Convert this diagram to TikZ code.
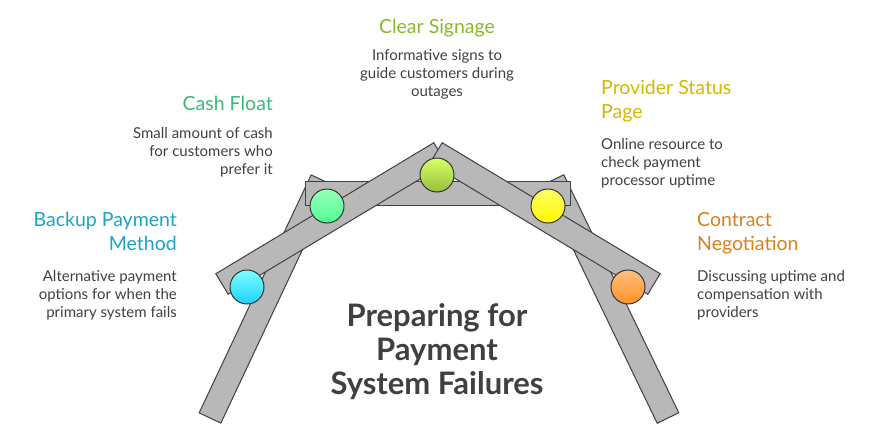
\documentclass[tikz,border=0pt]{standalone}
\usepackage{fontspec}
\setmainfont{Lato}
\usepackage{tikz}
\usetikzlibrary{positioning,calc}
\definecolor{cblue}{HTML}{1AA3C8}
\definecolor{cgreen}{HTML}{3CB878}
\definecolor{clime}{HTML}{8AB82A}
\definecolor{cyell}{HTML}{D4B800}
\definecolor{corange}{HTML}{D97F1E}
\definecolor{ctext}{HTML}{404040}
\tikzset{
  barstyle/.style={fill=black!28, draw=black!75, line width=1pt, line join=miter},
  dot/.style={circle, minimum size=34pt, draw=black!80, line width=1pt},
  head/.style={font=\fontsize{19.5}{24}\selectfont, inner sep=0pt},
  body/.style={font=\fontsize{15}{18}\selectfont, text=ctext, inner sep=0pt},
}
\newcommand\mbar[2]{%
  \filldraw[barstyle] ($(#1)!12pt!90:(#2)$) -- ($(#2)!12pt!-90:(#1)$) -- ($(#2)!12pt!90:(#1)$) -- ($(#1)!12pt!-90:(#2)$) -- cycle;}
\begin{document}
\begin{tikzpicture}[x=1pt,y=-1pt]
        \useasboundingbox (0,0) rectangle (880,431);
        % bar ends
        \coordinate (ls1) at (210,418);  \coordinate (ls2) at (322,180);
        \coordinate (rs1) at (668,418);  \coordinate (rs2) at (553,180);
        \coordinate (lf1) at (222,284);  \coordinate (lf2) at (440,153);
        \coordinate (rf1) at (654,284);  \coordinate (rf2) at (436,153);
        \coordinate (h1) at (305,193);   \coordinate (h2) at (570,193);

        \mbar{ls1}{ls2}
        \mbar{rs1}{rs2}
        \mbar{h1}{h2}
        \mbar{lf1}{lf2}
        \mbar{rf1}{rf2}

        \node[dot, top color=cyan!50, bottom color=cyan!80!blue!90] (d1) at (247,287) {};
        \node[dot, top color=green!70!cyan!40, bottom color=green!60!cyan!70] (d2) at (327,206) {};
        \node[dot, top color=lime!60, bottom color=clime!90] (d3) at (437,175) {};
        \node[dot, top color=yellow!60, bottom color=yellow!95!orange] (d4) at (548,206) {};
        \node[dot, top color=orange!50, bottom color=orange!85] (d5) at (628,287) {};

        % labels
        \node[head, text=clime] (t3) at (437,28) {Clear Signage};
        \node[body, align=center, below=12pt of t3] (b3) {Informative signs to\\guide customers during\\outages};

        \node[head, text=cgreen, anchor=east] (t2) at (273,103) {Cash Float};
        \node[body, align=right, anchor=north east] (b2) at (273,127) {Small amount of cash\\for customers who\\prefer it};

        \node[head, text=cblue, align=right, anchor=north east] (t1) at (177,212) {Backup Payment\\Method};
        \node[body, align=right, anchor=north east] (b1) at (177,270) {Alternative payment\\options for when the\\primary system fails};

        \node[head, text=cyell, align=left, anchor=north west] (t4) at (601,80) {Provider Status\\Page};
        \node[body, align=left, anchor=north west] (b4) at (601,138) {Online resource to\\check payment\\processor uptime};

        \node[head, text=corange, align=left, anchor=north west] (t5) at (697,212) {Contract\\Negotiation};
        \node[body, align=left, anchor=north west] (b5) at (697,270) {Discussing uptime and\\compensation with\\providers};

        \node[font=\fontsize{31}{34}\selectfont\bfseries, text=ctext, align=center] (title) at (437,352) {Preparing for\\Payment\\System Failures};
\end{tikzpicture}
\end{document}
